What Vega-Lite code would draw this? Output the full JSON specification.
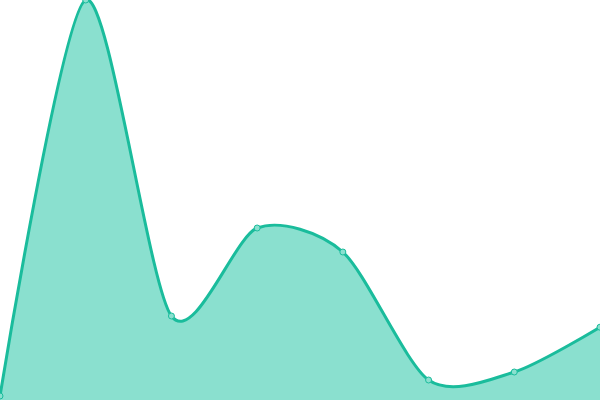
{
  "$schema": "https://vega.github.io/schema/vega-lite/v6.json",
  "width": 600,
  "height": 400,
  "autosize": {"type": "fit", "contains": "padding"},
  "padding": 0,
  "background": "#ffffff",
  "config": {"view": {"stroke": null}},
  "data": {
    "values": [
      {"i": 0, "v": 1},
      {"i": 1, "v": 100},
      {"i": 2, "v": 21},
      {"i": 3, "v": 43},
      {"i": 4, "v": 37},
      {"i": 5, "v": 5},
      {"i": 6, "v": 7},
      {"i": 7, "v": 18.2}
    ]
  },
  "encoding": {
    "x": {"field": "i", "type": "quantitative", "scale": {"domain": [0, 7], "nice": false, "zero": false}, "axis": null},
    "y": {"field": "v", "type": "quantitative", "scale": {"domain": [0, 100], "nice": false}, "axis": null}
  },
  "layer": [
    {"mark": {"type": "area", "interpolate": "cardinal", "tension": 0.2, "color": "#8ae0cf", "clip": true}},
    {"mark": {"type": "line", "interpolate": "cardinal", "tension": 0.2, "color": "#1abc9c", "strokeWidth": 3, "clip": true}},
    {"mark": {"type": "point", "filled": true, "fill": "#8ae0cf", "stroke": "#1abc9c", "strokeWidth": 1, "size": 36, "opacity": 1, "clip": true}}
  ]
}
